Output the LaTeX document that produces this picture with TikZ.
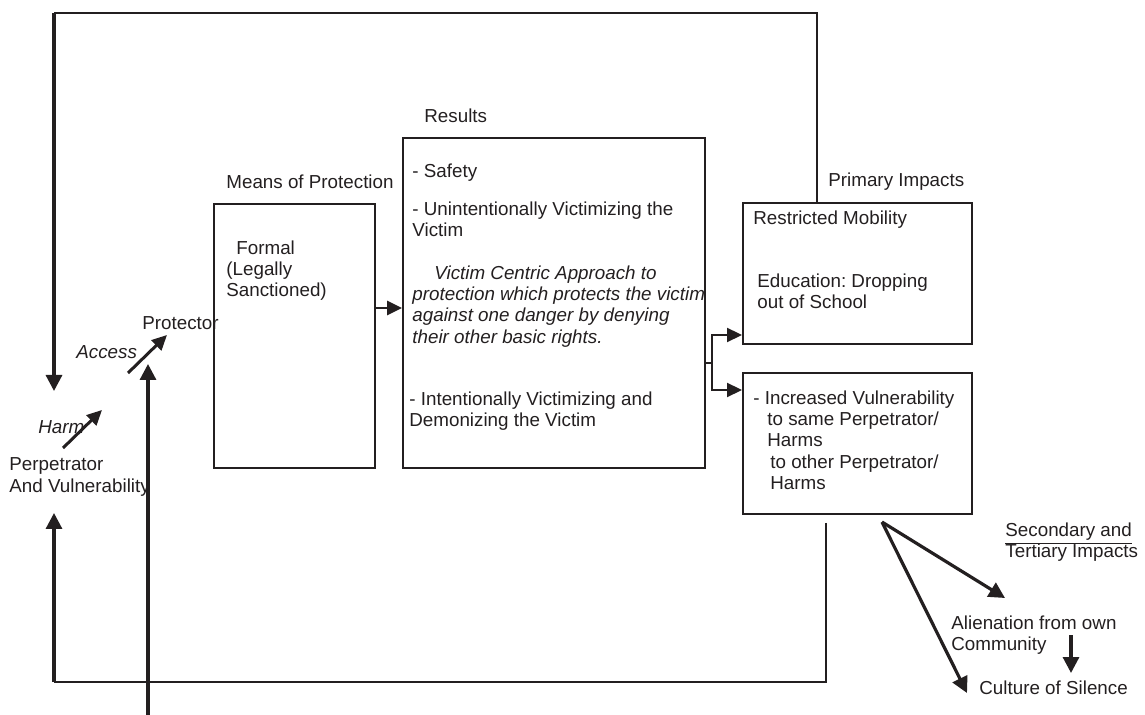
\documentclass[tikz,border=0pt]{standalone}
\usepackage{fontspec}
\setmainfont{Liberation Sans}
\usepackage{tikz}
\usepackage{xcolor}
\usetikzlibrary{arrows.meta}
\frenchspacing
\definecolor{InkBlack}{HTML}{231F20}
\tikzset{
  impactbox/.style={draw=InkBlack,line width=1pt,anchor=north west,inner sep=0pt},
  txt/.style={inner sep=0pt,anchor=north west,align=left,text=InkBlack},
  tag/.style={inner sep=0pt,anchor=west,text=InkBlack},
  flow/.style={-{Triangle[length=8pt,width=8pt]},line width=1.6pt,draw=InkBlack},
  linkflow/.style={-{Triangle[length=7.5pt,width=7pt]},line width=1.1pt,draw=InkBlack},
  loopline/.style={line width=1pt,draw=InkBlack}
}

\begin{document}
\begin{tikzpicture}[x=0.5pt,y=-0.5pt,font=\fontsize{9.4}{10.6}\selectfont]
  \useasboundingbox (0,0) rectangle (1145,715);
  \node[txt] (perp) at (9,457.5) {Perpetrator\\And Vulnerability};
  \node[tag,font=\fontsize{9.4}{10.6}\selectfont\itshape] (harm) at (38,427) {Harm};
  \node[tag,font=\fontsize{9.4}{10.6}\selectfont\itshape] (access) at (76,352) {Access};
  \node[tag] (prot) at (142,323) {Protector};
  \node[tag] (meanslbl) at (226,182) {Means of Protection};
  \node[impactbox,minimum width=80.5pt,minimum height=132pt] (means) at (213,203) {};
  \node[txt] (formal) at (226,240.5) {\hspace*{5pt}Formal\\(Legally\\Sanctioned)};
  \node[tag] (reslbl) at (424,116) {Results};
  \node[impactbox,minimum width=151pt,minimum height=165pt] (results) at (402,137) {};
  \node[tag] (safety) at (412,173) {- Safety};
  \node[txt] (unint) at (412,201.5) {- Unintentionally Victimizing the\\Victim};
  \node[txt,font=\fontsize{9.4}{10.6}\selectfont\itshape] (vca) at (412,265.5)
    {\hspace*{11pt}Victim Centric Approach to\\protection which protects the victim\\against one danger by denying\\their other basic rights.};
  \node[txt] (intent) at (409,391.5) {- Intentionally Victimizing and\\Demonizing the Victim};
  \node[tag] (primlbl) at (828,182) {Primary Impacts};
  \node[impactbox,minimum width=114.5pt,minimum height=70.5pt] (restricted) at (742,202) {};
  \node[tag] (mobility) at (753,220) {Restricted Mobility};
  \node[txt] (educ) at (757,273.5) {Education: Dropping\\out of School};
  \node[impactbox,minimum width=114.5pt,minimum height=70.5pt] (vuln) at (742,372) {};
  \node[txt] (incr) at (753,390.5) {- Increased Vulnerability\\\hspace*{7pt}to same Perpetrator/\\\hspace*{7pt}Harms\\\hspace*{8.5pt}to other Perpetrator/\\\hspace*{8.5pt}Harms};
  \node[txt] (sec) at (1005,522.5) {\underline{Secondary and}\\[-1.5pt]Tertiary Impacts};
  \node[txt] (alien) at (951,615.5) {Alienation from own\\Community};
  \node[tag] (silence) at (979,688) {Culture of Silence};

  \coordinate (topright) at (817,13);
  \coordinate (topleft) at (54,13);
  \coordinate (harmin) at (54,391);
  \coordinate (botright) at (826,523);
  \coordinate (botcorner) at (826,682);
  \coordinate (botleft) at (54,682);
  \coordinate (perpin) at (54,513);
  \coordinate (protfoot) at (148,716);
  \coordinate (protin) at (148,364);
  \coordinate (accfrom) at (128,373);
  \coordinate (accto) at (167,335);
  \coordinate (harmfrom) at (63,448);
  \coordinate (harmto) at (102,410);
  \coordinate (fork) at (712,363);
  \coordinate (spread) at (882,522);
  \coordinate (alienin) at (1005,598);
  \coordinate (silencein) at (967,693);
  \coordinate (alienout) at (1071,635);
  \coordinate (silencetop) at (1071,673);

  \draw[loopline] (restricted.north -| topright) -- (topright) -- (topleft);
  \draw[flow] (topleft) -- (harmin);
  \draw[loopline] (botright) -- (botcorner) -- (botleft);
  \draw[flow] (botleft) -- (perpin);
  \draw[flow] (protfoot) -- (protin);
  \draw[linkflow,line width=1.5pt] (accfrom) -- (accto);
  \draw[linkflow,line width=1.5pt] (harmfrom) -- (harmto);
  \draw[linkflow,line width=1.4pt] ([yshift=14pt]means.east) -- ([yshift=14pt]means.east -| results.west);
  \draw[loopline,line width=0.7pt] (results.east |- fork) -- (fork);
  \draw[linkflow] (fork) |- ([yshift=5pt]restricted.south west);
  \draw[linkflow] (fork) |- ([yshift=-9pt]vuln.north west);
  \draw[flow] (spread) -- (alienin);
  \draw[flow] (spread) -- (silencein);
  \draw[flow] (alienout) -- (silencetop);
\end{tikzpicture}
\end{document}
